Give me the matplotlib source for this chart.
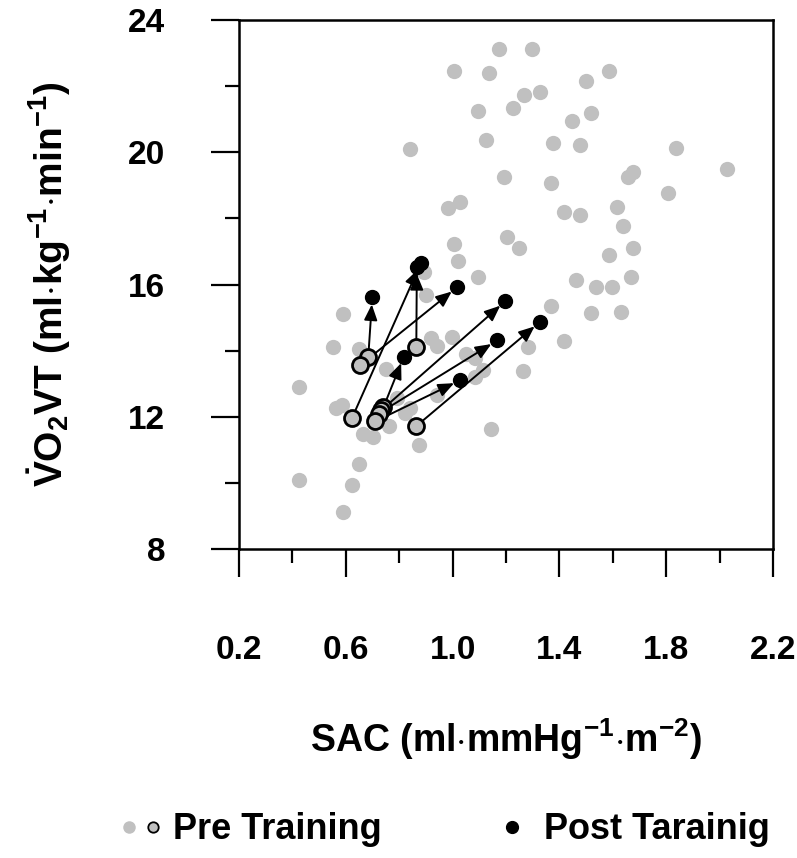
import matplotlib
matplotlib.use("Agg")
import matplotlib.pyplot as plt
from matplotlib.lines import Line2D
from matplotlib.legend_handler import HandlerTuple

plt.rcParams['font.family'] = ['Liberation Sans', 'DejaVu Sans']
plt.rcParams['font.weight'] = 'bold'
plt.rcParams['axes.labelweight'] = 'bold'
plt.rcParams['mathtext.fontset'] = 'custom'
plt.rcParams['mathtext.rm'] = 'Liberation Sans:bold'
plt.rcParams['mathtext.bf'] = 'Liberation Sans:bold'
plt.rcParams['mathtext.it'] = 'Liberation Sans:bold'

# all subjects (grey cloud)
sac_all = [1.172, 1.298, 1.007, 1.137, 1.587, 1.498, 1.327, 1.267, 1.227, 1.096,
           1.517, 1.446, 1.126, 0.842, 1.377, 1.477, 1.837, 2.027, 1.677, 1.657,
           1.191, 1.367, 1.807, 1.027, 0.982, 1.417, 1.477, 1.617, 1.637, 1.007,
           1.202, 1.248, 1.677, 1.022, 1.587, 1.096, 0.894, 1.667, 1.462, 1.537,
           1.597, 0.902, 1.367, 1.517, 1.632, 0.591, 1.417, 1.282, 1.262, 0.552,
           0.651, 0.920, 0.942, 0.997, 0.750, 1.049, 1.083, 1.113, 1.083, 0.423,
           0.564, 0.585, 0.792, 0.942, 0.842, 0.823, 1.142, 0.762, 0.663, 0.702,
           0.873, 0.651, 0.623, 0.423, 0.591]
vo2_all = [23.11, 23.11, 22.47, 22.39, 22.47, 22.15, 21.82, 21.74, 21.34, 21.26,
           21.18, 20.94, 20.37, 20.09, 20.29, 20.21, 20.13, 19.48, 19.40, 19.24,
           19.24, 19.08, 18.76, 18.50, 18.31, 18.19, 18.11, 18.35, 17.78, 17.22,
           17.45, 17.12, 17.12, 16.71, 16.89, 16.24, 16.39, 16.23, 16.14, 15.93,
           15.93, 15.67, 15.35, 15.13, 15.17, 15.10, 14.30, 14.12, 13.39, 14.12,
           14.05, 14.37, 14.14, 14.40, 13.46, 13.90, 13.79, 13.41, 13.21, 12.91,
           12.27, 12.35, 12.58, 12.66, 12.27, 12.12, 11.62, 11.72, 11.47, 11.38,
           11.14, 10.57, 9.93, 10.09, 9.13]

# trained subjects, pre and post
sac_pre = [0.684, 0.654, 0.864, 0.623, 0.741, 0.733, 0.723, 0.710, 0.864]
vo2_pre = [13.81, 13.56, 14.12, 11.96, 12.29, 12.20, 12.10, 11.86, 11.72]
sac_post = [0.699, 1.017, 0.866, 0.881, 0.817, 1.198, 1.167, 1.029, 1.327]
vo2_post = [15.61, 15.92, 16.53, 16.65, 13.82, 15.50, 14.31, 13.11, 14.87]

x_ticks = [0.2, 0.6, 1.0, 1.4, 1.8, 2.2]
y_ticks = [8, 12, 16, 20, 24]

grey = '#c0c0c0'

fig = plt.figure(figsize=(7.97, 8.58), dpi=100)
ax = fig.add_axes([0.2999, 0.36, 0.6700, 0.6167])

ax.plot(sac_all, vo2_all, 'o', color=grey, ms=11, mec='none', zorder=2)
for x0, y0, x1, y1 in zip(sac_pre, vo2_pre, sac_post, vo2_post):
    ax.annotate('', xy=(x1, y1), xytext=(x0, y0),
                arrowprops=dict(arrowstyle='-|>,head_length=0.95,head_width=0.4',
                                color='black', lw=1.4, shrinkA=3, shrinkB=5,
                                mutation_scale=10),
                zorder=3)
ax.plot(sac_pre, vo2_pre, 'o', color=grey, ms=11.5, mec='black', mew=2, zorder=4)
ax.plot(sac_post, vo2_post, 'o', color='black', ms=10, zorder=4)

ax.set_xlim(0.2, 2.2)
ax.set_ylim(8, 24)
ax.set_xticks(x_ticks)
ax.set_xticklabels([f'{v:.1f}' for v in x_ticks])
ax.set_xticks([0.4, 0.8, 1.2, 1.6, 2.0], minor=True)
ax.set_yticks(y_ticks)
ax.set_yticks([10, 14, 18, 22], minor=True)
ax.tick_params(which='major', length=20, width=1.6, labelsize=24, direction='out')
ax.tick_params(axis='x', which='major', pad=42)
ax.tick_params(axis='y', which='major', pad=33)
ax.tick_params(which='minor', length=10, width=1.6)
for s in ax.spines.values():
    s.set_linewidth(1.8)

ax.set_xlabel(r'SAC (ml$\cdot$mmHg$^{-1}$$\cdot$m$^{-2}$)', fontsize=27, labelpad=36)
ax.set_ylabel(r'$\dot{\mathrm{V}}$O$_{2}$VT (ml$\cdot$kg$^{-1}$$\cdot$min$^{-1}$)',
              fontsize=28, labelpad=40)

pre_h = (Line2D([], [], marker='o', ls='none', color=grey, mec='none', ms=9),
         Line2D([], [], marker='o', ls='none', color=grey, mec='black', mew=1.3, ms=7.5))
post_h = Line2D([], [], marker='o', ls='none', color='black', ms=8.5)
fig.legend([pre_h, post_h], ['Pre Training', 'Post Tarainig'],
           handler_map={tuple: HandlerTuple(ndivide=None, pad=0.15)},
           loc='center', bbox_to_anchor=(0.558, 0.033), ncol=2, frameon=False,
           fontsize=26, handlelength=1.2, handletextpad=0.3, columnspacing=3.0)

fig.savefig('out.png', dpi=100)
